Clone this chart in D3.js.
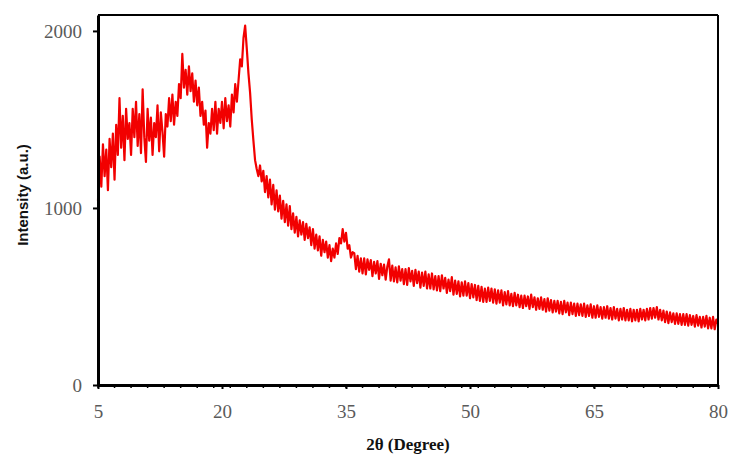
<!DOCTYPE html>
<head>
  <meta charset="utf-8">
  <script src="https://d3js.org/d3.v7.min.js"></script>
  <style>
    body { margin: 0; background: #fff; }
    .tickLabel { font-family: "Liberation Serif", serif; font-size: 19px; fill: #5a5a5a; }
    .axisLabel { font-family: "Liberation Serif", serif; font-size: 17px; font-weight: bold; fill: #111; }
    .axisLabelY { font-family: "Liberation Sans", sans-serif; font-size: 15px; font-weight: bold; fill: #111; }
  </style>
</head>
<body>
<script>
  var outerWidth = 734,
    outerHeight = 455;

  var margin = { top: 15, left: 98, right: 16, bottom: 70 };
  var width = outerWidth - margin.left - margin.right,
    height = outerHeight - margin.top - margin.bottom;

  // scan sampling (degrees 2-theta)
  var thetaStart = 5,
    thetaStep = 0.2;

  // intensity, 5 values per degree, 5.0 .. 80.0
  var intensity = [
    1040, 1290, 1120, 1360, 1180,   // 5
    1330, 1100, 1390, 1230, 1420,   // 6
    1160, 1470, 1300, 1620, 1340,   // 7
    1520, 1270, 1560, 1390, 1480,   // 8
    1300, 1560, 1400, 1600, 1350,   // 9
    1530, 1310, 1670, 1400, 1260,   // 10
    1560, 1380, 1510, 1300, 1480,   // 11
    1400, 1580, 1320, 1540, 1430,   // 12
    1290, 1530, 1460, 1620, 1490,   // 13
    1640, 1470, 1600, 1520, 1700,   // 14
    1620, 1870, 1680, 1780, 1640,   // 15
    1800, 1660, 1760, 1600, 1720,   // 16
    1580, 1680, 1520, 1600, 1470,   // 17
    1550, 1340, 1480, 1420, 1560,   // 18
    1440, 1600, 1420, 1560, 1480,   // 19
    1600, 1450, 1620, 1490, 1580,   // 20
    1460, 1640, 1540, 1700, 1600,   // 21
    1720, 1840, 1800, 1960, 2030,   // 22
    1900, 1760, 1650, 1500, 1380,   // 23
    1270, 1220, 1180, 1240, 1150,   // 24
    1210, 1090, 1180, 1060, 1160,   // 25
    1020, 1130, 990, 1100, 980,     // 26
    1070, 940, 1040, 920, 1020,     // 27
    900, 1010, 880, 970, 860,       // 28
    950, 840, 930, 850, 920,        // 29
    820, 910, 830, 890, 790,        // 30
    880, 770, 850, 760, 840,        // 31
    730, 820, 750, 810, 720,        // 32
    790, 700, 770, 720, 800,        // 33
    740, 830, 800, 880, 810,        // 34
    860, 770, 790, 720, 750,        // 35
    745, 655, 730, 640, 715,        // 36
    630, 715, 625, 710, 650,        // 37
    705, 615, 695, 630, 700,        // 38
    600, 685, 620, 680, 595,        // 39
    670, 710, 590, 675, 585,        // 40
    665, 580, 670, 590, 655,        // 41
    570, 655, 565, 660, 585,        // 42
    645, 560, 650, 575, 640,        // 43
    550, 635, 560, 640, 545,        // 44
    625, 545, 630, 540, 615,        // 45
    535, 615, 530, 620, 545,        // 46
    605, 520, 595, 530, 610,        // 47
    510, 590, 515, 585, 500,        // 48
    580, 505, 585, 505, 575,        // 49
    490, 570, 495, 565, 480,        // 50
    560, 475, 555, 470, 545,        // 51
    470, 550, 475, 545, 465,        // 52
    540, 460, 535, 465, 535,        // 53
    450, 525, 455, 530, 450,        // 54
    515, 445, 520, 450, 510,        // 55
    440, 505, 435, 505, 445,        // 56
    500, 430, 510, 440, 495,        // 57
    425, 490, 430, 495, 425,        // 58
    485, 415, 490, 420, 480,        // 59
    410, 475, 415, 475, 405,        // 60
    470, 400, 475, 410, 465,        // 61
    395, 465, 400, 460, 390,        // 62
    460, 395, 455, 390, 460,        // 63
    385, 450, 390, 455, 380,        // 64
    445, 380, 450, 385, 440,        // 65
    375, 440, 380, 445, 375,        // 66
    435, 370, 440, 375, 430,        // 67
    365, 430, 370, 435, 365,        // 68
    425, 365, 430, 360, 425,        // 69
    365, 425, 360, 430, 370,        // 70
    425, 365, 430, 370, 435,        // 71
    375, 435, 380, 440, 370,        // 72
    425, 365, 420, 355, 415,        // 73
    350, 410, 355, 405, 345,        // 74
    405, 345, 400, 340, 400,        // 75
    340, 400, 335, 395, 340,        // 76
    390, 330, 395, 335, 385,        // 77
    325, 385, 330, 390, 320,        // 78
    380, 320, 385, 315, 370,        // 79
    345                             // 80
  ];

  var xTicks = [5, 20, 35, 50, 65, 80];
  var xMinorTicks = d3.range(5, 80, 2);
  var yTicks = [0, 1000, 2000];

  var xAxisLabel = '2\u03b8 (Degree)';
  var yAxisLabel = 'Intensity (a.u.)';

  var scan = intensity.map(function(v, i) {
    return { theta: thetaStart + i * thetaStep, value: v };
  });

  var xScale = d3.scaleLinear().domain([5, 80]).range([0, width]);
  var yScale = d3.scaleLinear().domain([0, 2090]).range([height, 0]);

  var svg = d3.select("body")
    .append("svg")
    .attr("width", outerWidth)
    .attr("height", outerHeight)
    .append("g")
    .attr("transform", "translate(" + margin.left + " " + margin.top + ")");

  // the pattern
  var line = d3.line()
    .x(function(d) { return xScale(d.theta); })
    .y(function(d) { return yScale(d.value); });

  svg.append("path")
    .datum(scan)
    .attr("d", line)
    .attr("fill", "none")
    .attr("stroke", "#f20000")
    .attr("stroke-width", 2.2)
    .attr("stroke-linejoin", "round");

  // frame: top and right thinner
  svg.append("line").attr("x1", 0).attr("x2", width).attr("y1", 0).attr("y2", 0)
    .attr("stroke", "#000").attr("stroke-width", 2);
  svg.append("line").attr("x1", width).attr("x2", width).attr("y1", 0).attr("y2", height)
    .attr("stroke", "#000").attr("stroke-width", 2);

  // minor x ticks
  svg.selectAll(".minor")
    .data(xMinorTicks)
    .enter().append("line")
    .attr("x1", function(d) { return xScale(d); })
    .attr("x2", function(d) { return xScale(d); })
    .attr("y1", height).attr("y2", height + 3)
    .attr("stroke", "#000").attr("stroke-width", 1.5);

  var xAxis = d3.axisBottom(xScale).tickValues(xTicks).tickFormat(d3.format("d"))
    .tickSize(4).tickSizeOuter(0).tickPadding(16);
  var xAxisContainer = svg.append("g")
    .attr("transform", "translate(0 " + height + ")")
    .call(xAxis);

  var yAxis = d3.axisLeft(yScale).tickValues(yTicks).tickFormat(d3.format("d"))
    .tickSize(5).tickSizeOuter(0).tickPadding(11);
  var yAxisContainer = svg.append("g").call(yAxis);

  [xAxisContainer, yAxisContainer].forEach(function(g) {
    g.select(".domain").attr("stroke", "#000").attr("stroke-width", 3);
    g.selectAll(".tick line").attr("stroke", "#000").attr("stroke-width", 2);
    g.selectAll(".tick text").attr("class", "tickLabel").attr("font-family", null).attr("font-size", null);
  });

  // text label for the x axis
  svg.append("text")
    .attr("x", 310)
    .attr("y", height + 65)
    .style("text-anchor", "middle")
    .attr("class", "axisLabel")
    .text(xAxisLabel);

  // text label for the y axis
  svg.append("text")
    .attr("transform", "rotate(-90)")
    .attr("x", 0 - 180)
    .attr("y", -margin.left + 28)
    .style("text-anchor", "middle")
    .attr("class", "axisLabelY")
    .text(yAxisLabel);
</script>
</body>
